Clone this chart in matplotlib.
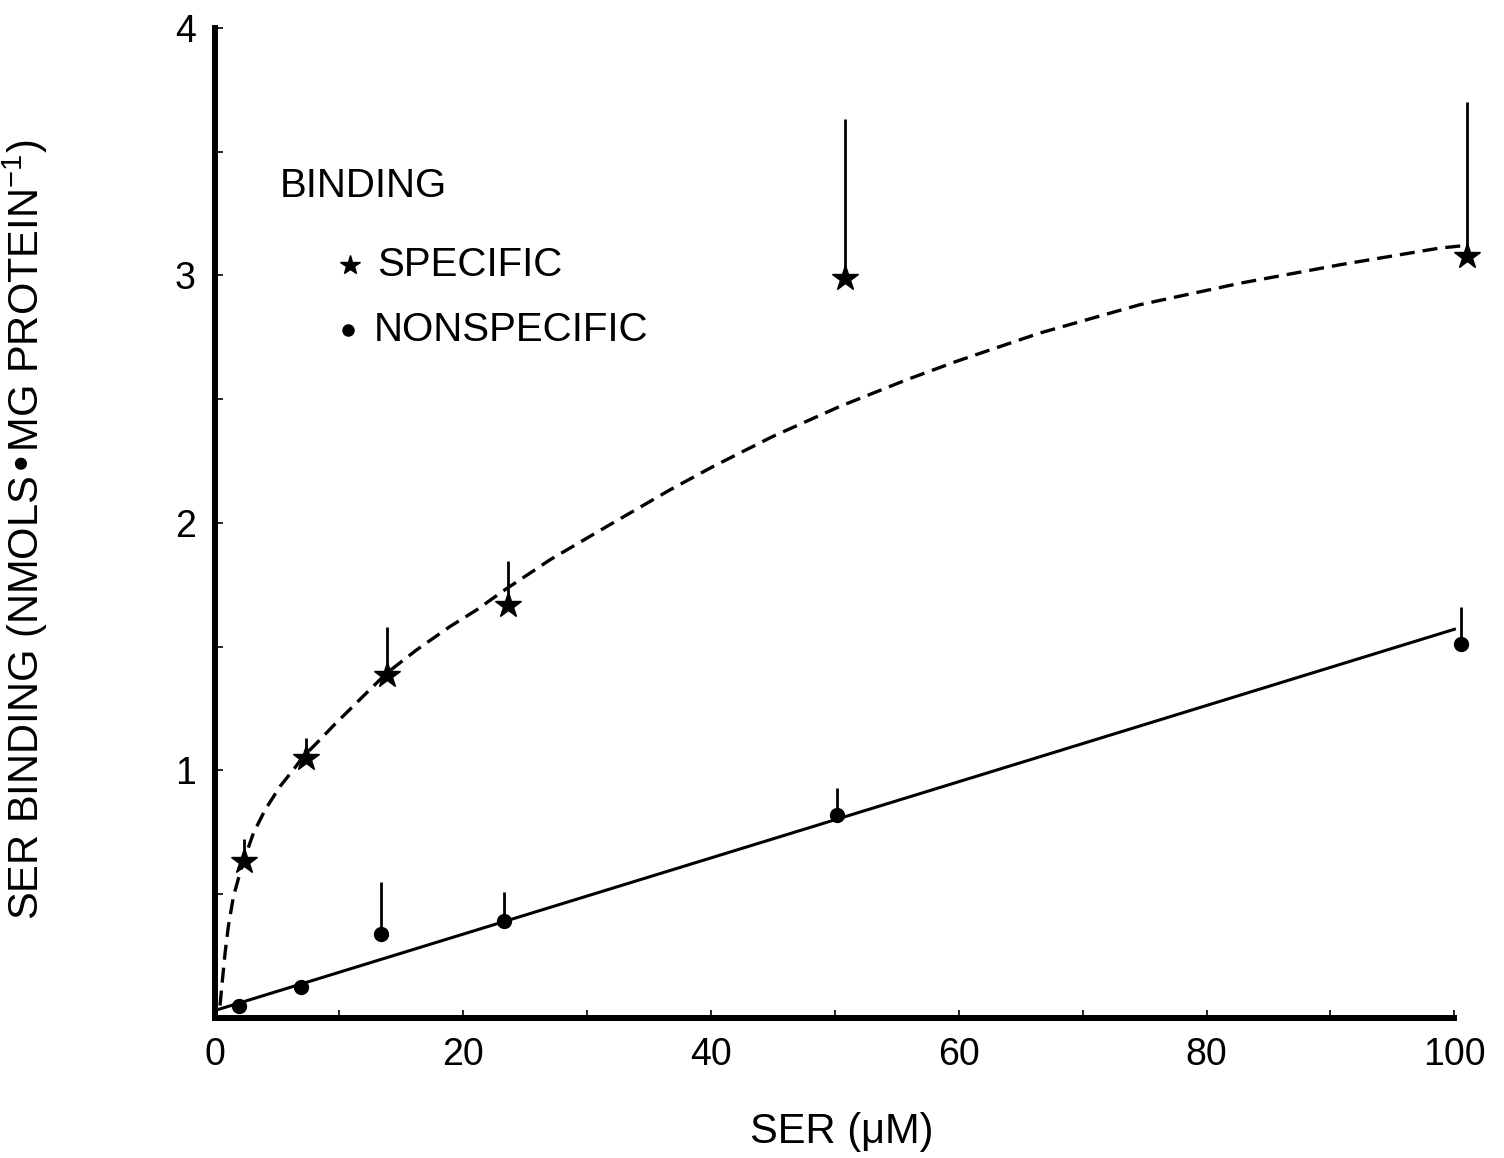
import matplotlib.pyplot as plt
from matplotlib.ticker import MultipleLocator

plt.rcParams['font.family'] = ['Liberation Sans', 'DejaVu Sans']

# specific binding (stars), upward error bars only
spec_x = [2.3, 7.3, 13.85, 23.65, 50.8, 101.0]
spec_y = [0.632, 1.05, 1.386, 1.669, 2.99, 3.08]
spec_err = [0.09, 0.08, 0.192, 0.175, 0.64, 0.62]

# nonspecific binding (dots)
nons_x = [1.9, 6.9, 13.4, 23.3, 50.2, 100.5]
nons_y = [0.05, 0.125, 0.34, 0.39, 0.82, 1.51]
nons_err = [0.0, 0.0, 0.21, 0.12, 0.11, 0.15]

# fitted curves
fit_spec_x = [0.4, 0.54, 0.81, 1.07, 1.48, 2.15, 3.09, 4.03, 5.24, 6.31, 7.12, 8.2,
              9.54, 11.96, 13.85, 16.27, 18.95, 21.1, 23.25, 26.2, 27.0, 31.6, 36.7,
              40.2, 45.0, 50.4, 55.8, 59.8, 66.5, 74.6, 82.7, 90.7, 98.8, 100.8]
fit_spec_y = [0.05, 0.126, 0.263, 0.369, 0.49, 0.611, 0.746, 0.84, 0.935, 1.002, 1.056, 1.11,
              1.18, 1.30, 1.393, 1.487, 1.581, 1.648, 1.725, 1.823, 1.85, 1.985, 2.133,
              2.228, 2.349, 2.47, 2.578, 2.652, 2.766, 2.881, 2.968, 3.042, 3.11, 3.12]
fit_nons_x = [0.0, 100.0]
fit_nons_y = [0.03, 1.57]

fig = plt.figure(figsize=(15.04, 11.58), dpi=100)
ax = fig.add_axes([0.143, 0.121, 0.824, 0.855])

ax.plot(fit_spec_x, fit_spec_y, color='black', lw=2.4, ls=(0, (4.5, 2.4)), clip_on=False)
ax.plot(fit_nons_x, fit_nons_y, color='black', lw=2.2, clip_on=False)

ax.errorbar(spec_x, spec_y, yerr=[[0] * len(spec_err), spec_err], fmt='*', color='black',
            ms=19, elinewidth=2.0, capsize=0, clip_on=False)
ax.errorbar(nons_x, nons_y, yerr=[[0] * len(nons_err), nons_err], fmt='o', color='black',
            ms=10, elinewidth=2.0, capsize=0, clip_on=False)

# legend drawn by hand
ax.text(5.2, 3.36, 'BINDING', fontsize=29, va='center', ha='left')
ax.plot([10.9], [3.04], '*', color='black', ms=15, clip_on=False)
ax.text(13.1, 3.04, 'SPECIFIC', fontsize=29, va='center', ha='left')
ax.plot([10.7], [2.78], 'o', color='black', ms=8, clip_on=False)
ax.text(12.8, 2.78, 'NONSPECIFIC', fontsize=29, va='center', ha='left')

ax.set_xlim(0, 100)
ax.set_ylim(0, 4)
ax.spines['top'].set_visible(False)
ax.spines['right'].set_visible(False)
ax.spines['left'].set_linewidth(4.3)
ax.spines['bottom'].set_linewidth(4.3)

ax.xaxis.set_major_locator(MultipleLocator(20))
ax.xaxis.set_minor_locator(MultipleLocator(10))
ax.yaxis.set_major_locator(MultipleLocator(1))
ax.yaxis.set_minor_locator(MultipleLocator(0.5))
ax.set_yticks([1, 2, 3, 4])
ax.tick_params(which='both', direction='in', length=6, width=1.2, labelsize=27)
ax.tick_params(axis='x', pad=14)
ax.tick_params(axis='y', pad=14)

ax.set_xlabel('SER (μM)', fontsize=30)
ax.xaxis.set_label_coords(0.506, -0.095)
ax.set_ylabel(r'SER BINDING (NMOLS•MG PROTEIN$^{\mathregular{-1}}$)', fontsize=30)
ax.yaxis.set_label_coords(-0.133, 0.493)

fig.savefig('out.png', dpi=100)
